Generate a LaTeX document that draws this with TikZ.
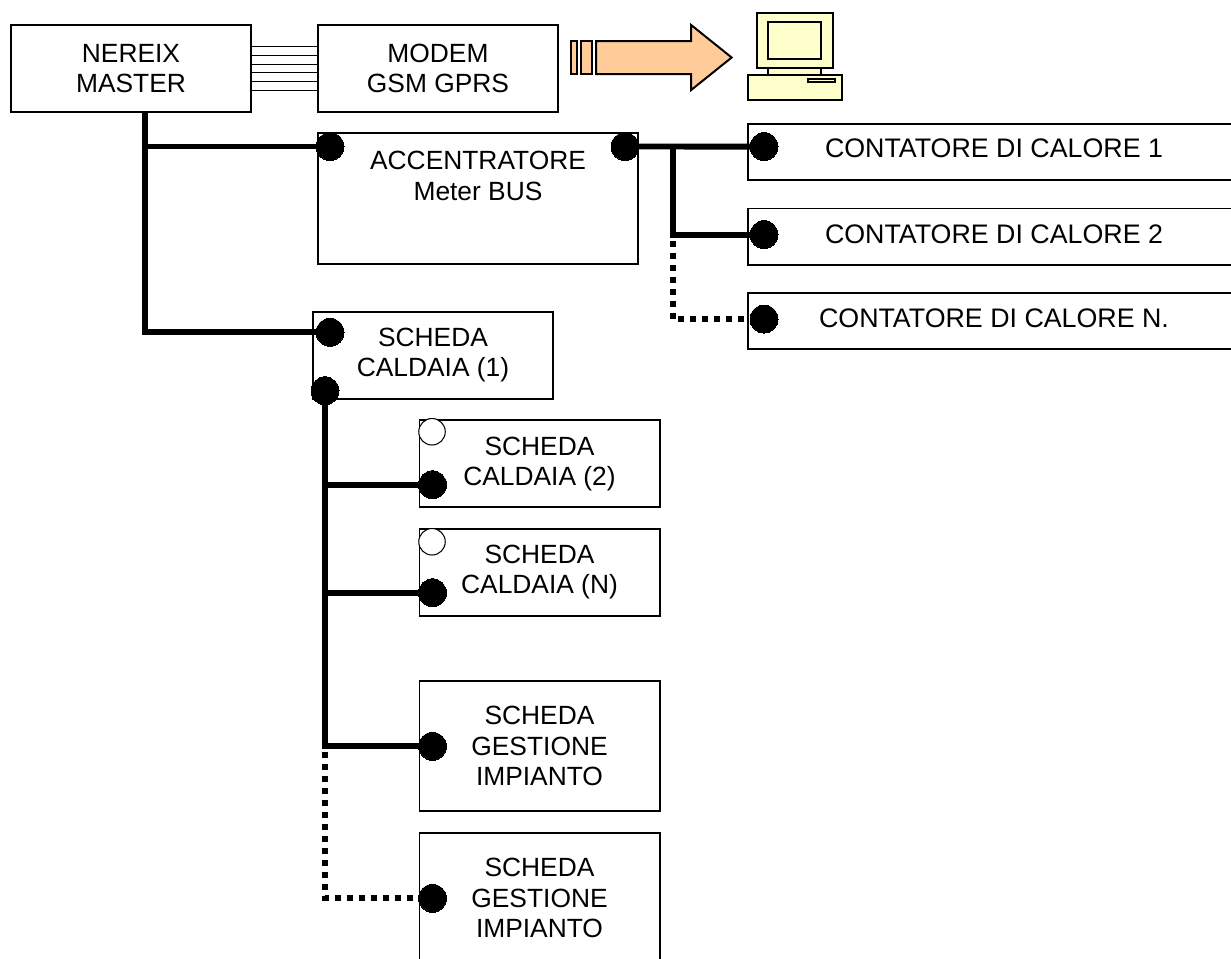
\documentclass[tikz,border=0pt]{standalone}
\usepackage{xcolor}
\usepackage{fontspec}
\setmainfont{Liberation Sans}
\usetikzlibrary{positioning}

\definecolor{arrowfill}{HTML}{FFCC99}
\definecolor{pcfill}{HTML}{FFFFCC}

\begin{document}
\begin{tikzpicture}[on grid,
        board/.style={draw, line width=1.13pt, align=center, inner sep=0pt, minimum width=4.8cm, minimum height=1.74cm,
            font=\fontsize{15}{17.3}\selectfont},
        tallboard/.style={board, minimum height=2.6cm},
        meter/.style={board, minimum width=9.84cm, minimum height=1.12cm},
        caption/.style={align=center, inner sep=0pt, font=\fontsize{15}{17.3}\selectfont},
        metercaption/.style={caption, font=\fontsize{15.25}{17.3}\selectfont},
        pin/.style={circle, fill=black, draw=black, inner sep=0pt, minimum size=0.56cm, line width=0pt},
        freepin/.style={circle, fill=white, draw=black, inner sep=0pt, minimum size=0.53cm, line width=0.6pt},
        bus/.style={line width=3.4pt},
        dottedbus/.style={bus, dash pattern=on 0.12cm off 0.12cm, dash phase=0.12cm},
        wire/.style={line width=0.57pt},
        outline/.style={draw, line width=1.13pt, line join=miter}]
        \useasboundingbox (0,0) rectangle (24.62,-19.16);

        \node[board] (nereix) at (2.62,-1.37) {NEREIX\\MASTER};
        \node[board] (modem) [right=6.14cm of nereix] {MODEM\\GSM GPRS};
        \node[board, minimum width=6.4cm, minimum height=2.62cm] (acc) [below right=2.6cm and 0.8cm of modem] {};
        \node[caption] (acctext) [below=0.38cm of acc.north] {ACCENTRATORE\\Meter BUS};
        \node[meter] (cnt1) [above right=0.93cm and 10.32cm of acc] {};
        \node[meter] (cnt2) [below=1.69cm of cnt1] {};
        \node[meter] (cnt3) [below=1.69cm of cnt2] {};
        \node[metercaption] (cnt1text) [above=0.08cm of cnt1] {CONTATORE DI CALORE 1};
        \node[metercaption] (cnt2text) [above=0.05cm of cnt2] {CONTATORE DI CALORE 2};
        \node[metercaption] (cnt3text) [above=0.05cm of cnt3] {CONTATORE DI CALORE N.};
        \node[board] (cal1) [below left=3.135cm and 0.9cm of acc] {SCHEDA\\CALDAIA (1)};
        \node[board] (cal2) [below right=2.17cm and 2.13cm of cal1] {SCHEDA\\CALDAIA (2)};
        \node[board] (caln) [below=2.17cm of cal2] {SCHEDA\\CALDAIA (N)};
        \node[tallboard] (ges1) [below=3.48cm of caln] {SCHEDA\\GESTIONE\\IMPIANTO};
        \node[tallboard] (ges2) [below=3.04cm of ges1] {SCHEDA\\GESTIONE\\IMPIANTO};

        \node[pin] (pacc1) at ([shift={(0.26,-0.29)}]acc.north west) {};
        \node[pin] (pacc2) at ([shift={(-0.28,-0.29)}]acc.north east) {};
        \node[pin] (pcnt1) at ([shift={(0.34,-0.47)}]cnt1.north west) {};
        \node[pin] (pcnt2) at ([shift={(0.34,-0.54)}]cnt2.north west) {};
        \node[pin] (pcnt3) at ([shift={(0.34,-0.54)}]cnt3.north west) {};
        \node[pin] (pcal1) at ([shift={(0.36,-0.43)}]cal1.north west) {};
        \node[pin] (pcal1b) at ([shift={(0.26,0.18)}]cal1.south west) {};
        \node[freepin] (fcal2) at ([shift={(0.27,-0.25)}]cal2.north west) {};
        \node[pin] (pcal2) at ([shift={(0.28,-1.31)}]cal2.north west) {};
        \node[freepin] (fcaln) at ([shift={(0.27,-0.28)}]caln.north west) {};
        \node[pin] (pcaln) at ([shift={(0.28,-1.30)}]caln.north west) {};
        \node[pin] (pges1) at ([xshift=0.28cm]ges1.west) {};
        \node[pin] (pges2) at ([xshift=0.28cm]ges2.west) {};

        \coordinate[right=0.28cm of nereix.south] (mainbus);
        \coordinate[right=0.96cm of pacc2] (meterbus);
        \coordinate (boardbus) at (pcal1b);

        \foreach \wireshift in {-21.8,-13.2,-4.2,4.5,13.2,21.8}
            \draw[wire] ([yshift=\wireshift*0.5669pt]nereix.east) -- ([yshift=\wireshift*0.5669pt]modem.west);

        \draw[bus] (mainbus) |- (pacc1);
        \draw[bus] (mainbus) |- (pcal1);
        \draw[bus] (pacc2) -- (pcnt1);
        \draw[bus] (meterbus) |- (pcnt2);
        \draw[dottedbus] (meterbus |- pcnt2) |- (pcnt3);
        \draw[bus] (boardbus) |- (pges1);
        \draw[bus] (boardbus |- pcal2) -- (pcal2);
        \draw[bus] (boardbus |- pcaln) -- (pcaln);
        \draw[dottedbus] (boardbus |- pges1) |- (pges2);

        \begin{scope}[x=0.02cm, y=-0.02cm]
            \draw[outline, fill=arrowfill] (571,41) rectangle (576.5,74);
            \draw[outline, fill=arrowfill] (581,41) rectangle (591.5,74);
            \draw[outline, fill=arrowfill] (596,41) -- (691,41) -- (691,25) -- (731.5,57.5) -- (691,90) -- (691,74) -- (596,74) -- cycle;
            \draw[outline, fill=pcfill] (768,66) rectangle (821,77);
            \draw[outline, fill=pcfill] (757,13) rectangle (833,68);
            \draw[outline, fill=pcfill] (768,22) rectangle (821,59);
            \draw[outline, fill=pcfill] (748,75) rectangle (842,100);
            \draw[outline, fill=pcfill] (808,79) rectangle (835,82);
        \end{scope}
    \end{tikzpicture}
\end{document}
